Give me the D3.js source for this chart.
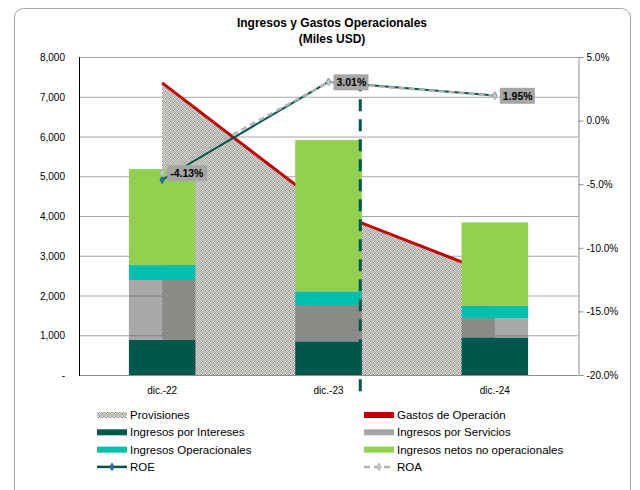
<!DOCTYPE html>
<html>
<head>
<meta charset="utf-8">
<script src="https://cdn.jsdelivr.net/npm/d3@7"></script>
<style>
    body { margin: 0; background: #fff; }
    text { font-family: "Liberation Sans", Arial, sans-serif; fill: #000; }
</style>
</head>
<body>
<script>
// chart data
var categories = ["dic.-22", "dic.-23", "dic.-24"];
var intereses = [880, 840, 940];          // Ingresos por Intereses
var servicios = [1510, 920, 490];         // Ingresos por Servicios
var operacionales = [380, 340, 310];      // Ingresos Operacionales
var noOperacionales = [2410, 3810, 2100]; // Ingresos netos no operacionales
var provisiones = [7350, 4150, 2520];
var gastos = [7350, 4150, 2520];          // Gastos de Operación
var roe = [-4.65, 3.05, 1.97];
var roa = [-4.13, 3.01, 1.95];
var leftTicks = [0, 1000, 2000, 3000, 4000, 5000, 6000, 7000, 8000];
var rightTicks = [-20, -15, -10, -5, 0, 5];

window.onload = function(){
    var w = 640, h = 490;
    var left = 79, right = 578, top = 57, bottom = 375;

    // plain hyphen for negatives, like the original
    var locale = d3.formatLocale({ decimal: ".", thousands: ",", grouping: [3], currency: ["$", ""], minus: "-" });

    var svg = d3.select("body")
        .append("svg")
        .attr("width", w)
        .attr("height", h);

    // pattern for the Provisiones area
    var defs = svg.append("defs");
    var pat = defs.append("pattern")
        .attr("id", "provPattern")
        .attr("width", 4)
        .attr("height", 4)
        .attr("patternUnits", "userSpaceOnUse");
    pat.append("rect").attr("width", 4).attr("height", 4).attr("fill", "#c0c0b8");
    pat.append("rect").attr("x", 1).attr("y", 1).attr("width", 1).attr("height", 1).attr("fill", "#f4f4f4");
    pat.append("rect").attr("x", 2).attr("y", 2).attr("width", 1).attr("height", 1).attr("fill", "#f4f4f4");
    pat.append("rect").attr("x", 2).attr("y", 1).attr("width", 1).attr("height", 1).attr("fill", "#858585");
    pat.append("rect").attr("x", 1).attr("y", 2).attr("width", 1).attr("height", 1).attr("fill", "#858585");

    // outer frame
    svg.append("rect")
        .attr("x", 14.5)
        .attr("y", 8.5)
        .attr("width", 616)
        .attr("height", 500)
        .attr("rx", 9)
        .style("fill", "none")
        .style("stroke", "#a6a6a6");

    // title
    svg.append("text")
        .attr("x", 332).attr("y", 27)
        .attr("text-anchor", "middle")
        .style("font-weight", "bold")
        .style("font-size", "12px")
        .text("Ingresos y Gastos Operacionales");
    svg.append("text")
        .attr("x", 332).attr("y", 43)
        .attr("text-anchor", "middle")
        .style("font-weight", "bold")
        .style("font-size", "12px")
        .text("(Miles USD)");

    // scales
    var x = d3.scaleBand()
        .domain(categories)
        .range([left, right])
        .paddingInner(0.6)
        .paddingOuter(0.3);
    var cx = function(i){ return x(categories[i]) + x.bandwidth() / 2; };

    var y = d3.scaleLinear().domain([0, 8000]).range([bottom, top]);
    var y2 = d3.scaleLinear().domain([-20, 5]).range([bottom, top]);

    // gridlines
    svg.append("g").selectAll("line")
        .data(leftTicks.slice(1))
        .enter()
        .append("line")
        .attr("x1", left).attr("x2", right)
        .attr("y1", function(d){ return y(d) + 0.5; })
        .attr("y2", function(d){ return y(d) + 0.5; })
        .style("stroke", "#a6a6a6");

    // Provisiones area
    var area = d3.area()
        .x(function(d, i){ return cx(i); })
        .y0(y(0))
        .y1(function(d){ return y(d); });
    svg.append("path")
        .datum(provisiones)
        .attr("d", area)
        .style("fill", "url(#provPattern)");

    // Gastos de Operación line (sits under the columns)
    var line = d3.line()
        .x(function(d, i){ return cx(i); })
        .y(function(d){ return y(d); });
    svg.append("path")
        .datum(gastos)
        .attr("d", line)
        .style("fill", "none")
        .style("stroke", "#c00000")
        .style("stroke-width", 3);

    // stacked columns
    var stackSeries = [
        { name: "Ingresos por Intereses", values: intereses, color: "#00574b" },
        { name: "Ingresos por Servicios", values: servicios, color: "rgba(90,90,90,0.52)" },
        { name: "Ingresos Operacionales", values: operacionales, color: "#00bfad" },
        { name: "Ingresos netos no operacionales", values: noOperacionales, color: "#92d050" }
    ];
    var stackRows = categories.map(function(c, i){
        var row = { cat: c };
        stackSeries.forEach(function(s){ row[s.name] = s.values[i]; });
        return row;
    });
    var stack = d3.stack().keys(stackSeries.map(function(s){ return s.name; }));
    var layers = stack(stackRows);

    svg.append("g").selectAll("g")
        .data(layers)
        .enter()
        .append("g")
        .style("fill", function(d, i){ return stackSeries[i].color; })
        .selectAll("rect")
        .data(function(d){ return d; })
        .enter()
        .append("rect")
        .attr("x", function(d){ return x(d.data.cat); })
        .attr("width", x.bandwidth())
        .attr("y", function(d){ return y(d[1]); })
        .attr("height", function(d){ return y(d[0]) - y(d[1]); });

    // axes lines
    svg.append("line")
        .attr("x1", left).attr("x2", right)
        .attr("y1", bottom + 0.5).attr("y2", bottom + 0.5)
        .style("stroke", "#8c8c8c");
    svg.append("line")
        .attr("x1", left + 0.5).attr("x2", left + 0.5)
        .attr("y1", top).attr("y2", bottom + 1)
        .style("stroke", "#000");

    // left tick labels
    var fmt = locale.format(",");
    svg.append("g").selectAll("text")
        .data(leftTicks)
        .enter()
        .append("text")
        .attr("x", 65)
        .attr("y", function(d){ return y(d) + 4; })
        .attr("text-anchor", "end")
        .style("font-size", "10px")
        .text(function(d){ return d === 0 ? "-" : fmt(d); });

    // right axis
    var rightAxis = d3.axisRight(y2)
        .tickValues(rightTicks)
        .tickSize(5)
        .tickPadding(3)
        .tickFormat(function(d){ return locale.format(".1f")(d) + "%"; });
    var ra = svg.append("g")
        .attr("transform", "translate(" + (right + 0.5) + ",0)")
        .call(rightAxis);
    ra.select(".domain").style("stroke", "#8c8c8c");
    ra.selectAll(".tick line").style("stroke", "#8c8c8c");
    ra.selectAll("text")
        .style("font-size", "10px")
        .style("font-family", "'Liberation Sans', Arial, sans-serif")
        .attr("fill", "#000");

    // category labels
    svg.append("g").selectAll("text")
        .data(categories)
        .enter()
        .append("text")
        .attr("x", function(d, i){ return cx(i); })
        .attr("y", 394)
        .attr("text-anchor", "middle")
        .style("font-size", "10px")
        .text(function(d){ return d; });

    // dashed vertical marker at dic.-23
    svg.append("line")
        .attr("x1", x(categories[1]) + x.bandwidth() - 1.5)
        .attr("x2", x(categories[1]) + x.bandwidth() - 1.5)
        .attr("y1", y2(roa[1]) - 3)
        .attr("y2", y2(-21.3))
        .style("stroke", "#00574b")
        .style("stroke-width", 3)
        .style("stroke-dasharray", "12,8");

    // ROE and ROA lines
    var pline = d3.line()
        .x(function(d, i){ return cx(i); })
        .y(function(d){ return y2(d); });
    svg.append("path")
        .datum(roe)
        .attr("d", pline)
        .style("fill", "none")
        .style("stroke", "#00574b")
        .style("stroke-width", 2);
    svg.append("path")
        .datum(roa)
        .attr("d", pline)
        .style("fill", "none")
        .style("stroke", "#b4b4b4")
        .style("stroke-width", 2.5)
        .style("stroke-dasharray", "6,4");

    var diamond = d3.symbol().type(d3.symbolDiamond).size(16);
    svg.append("g").selectAll("path")
        .data(roe)
        .enter()
        .append("path")
        .attr("d", diamond)
        .attr("transform", function(d, i){ return "translate(" + cx(i) + "," + y2(d) + ")"; })
        .style("fill", "#2e75b6")
        .style("stroke", "#1f5f8f");
    svg.append("g").selectAll("path")
        .data(roa)
        .enter()
        .append("path")
        .attr("d", diamond)
        .attr("transform", function(d, i){ return "translate(" + cx(i) + "," + y2(d) + ")"; })
        .style("fill", "#c8c8c8")
        .style("stroke", "#a9b4bc");

    // data labels
    var pct = locale.format(".2f");
    var labels = svg.append("g").selectAll("g")
        .data(roa)
        .enter()
        .append("g")
        .attr("transform", function(d, i){ return "translate(" + (cx(i) + 5) + "," + y2(d) + ")"; });
    labels.append("rect")
        .attr("x", 0).attr("y", -8)
        .attr("width", function(d){ return d < 0 ? 40 : 35; })
        .attr("height", 16)
        .style("fill", "#a6a6a6");
    labels.append("text")
        .attr("x", 3).attr("y", 4)
        .style("font-size", "10.5px")
        .style("font-weight", "bold")
        .text(function(d){ return pct(d) + "%"; });

    // legend
    var legendItems = [
        { name: "Provisiones", kind: "pattern" },
        { name: "Gastos de Operación", kind: "rect", color: "#c00000" },
        { name: "Ingresos por Intereses", kind: "rect", color: "#00574b" },
        { name: "Ingresos por Servicios", kind: "rect", color: "#a6a6a6" },
        { name: "Ingresos Operacionales", kind: "rect", color: "#00bfad" },
        { name: "Ingresos netos no operacionales", kind: "rect", color: "#92d050" },
        { name: "ROE", kind: "roe" },
        { name: "ROA", kind: "roa" }
    ];
    var legend = svg.append("g").selectAll("g")
        .data(legendItems)
        .enter()
        .append("g")
        .attr("transform", function(d, i){
            return "translate(" + (i % 2 === 0 ? 97 : 364) + "," + (415 + Math.floor(i / 2) * 17.3) + ")";
        });
    legend.filter(function(d){ return d.kind === "rect" || d.kind === "pattern"; })
        .append("rect")
        .attr("x", 0).attr("y", -3)
        .attr("width", 30).attr("height", 6)
        .style("fill", function(d){ return d.kind === "pattern" ? "url(#provPattern)" : d.color; });
    legend.filter(function(d){ return d.kind === "roe"; })
        .each(function(){
            var g = d3.select(this);
            g.append("line").attr("x1", 0).attr("x2", 30).attr("y1", 0).attr("y2", 0)
                .style("stroke", "#00574b").style("stroke-width", 2.5);
            g.append("path").attr("d", diamond).attr("transform", "translate(15,0)")
                .style("fill", "#2e75b6").style("stroke", "#1f5f8f");
        });
    legend.filter(function(d){ return d.kind === "roa"; })
        .each(function(){
            var g = d3.select(this);
            g.append("line").attr("x1", 0).attr("x2", 30).attr("y1", 0).attr("y2", 0)
                .style("stroke", "#b4b4b4").style("stroke-width", 2.5)
                .style("stroke-dasharray", "6,4");
            g.append("path").attr("d", diamond).attr("transform", "translate(15,0)")
                .style("fill", "#c8c8c8").style("stroke", "#b0b0b0");
        });
    legend.append("text")
        .attr("x", 33)
        .attr("y", 4)
        .style("font-size", "11.5px")
        .text(function(d){ return d.name; });
};
</script>
</body>
</html>
